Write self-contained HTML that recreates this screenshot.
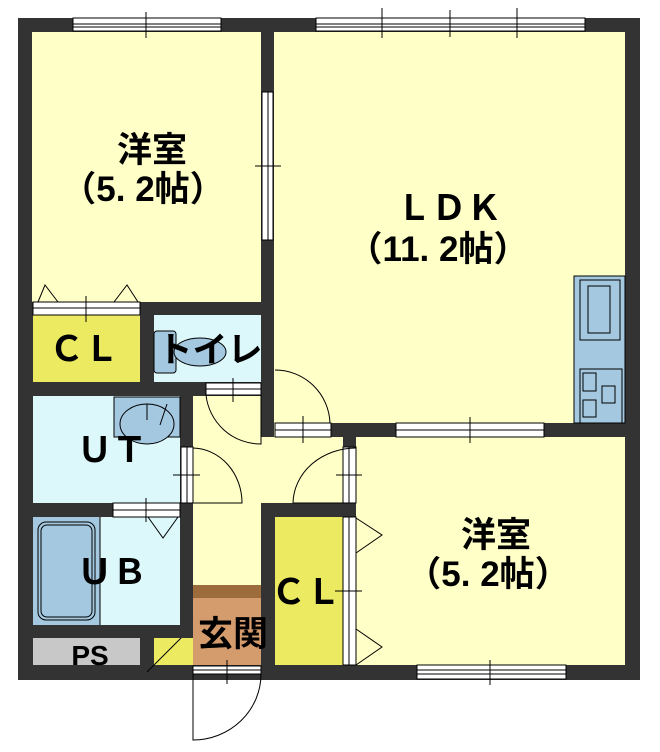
<!DOCTYPE html>
<html><head><meta charset="utf-8"><style>
html,body{margin:0;padding:0;background:#fff;}
svg{display:block;}
text{font-family:"Liberation Sans","Noto Sans CJK JP",sans-serif;fill:#000;}
</style></head><body>
<svg width="660" height="752" viewBox="0 0 660 752" xmlns="http://www.w3.org/2000/svg">
<rect x="18" y="18" width="622" height="662" fill="#333"/>
<rect x="32" y="32" width="229" height="270" fill="#ffffc8"/>
<rect x="274" y="32" width="351" height="391" fill="#ffffc8"/>
<rect x="356" y="437" width="269" height="228" fill="#ffffc8"/>
<rect x="33" y="315" width="107" height="67" fill="#ecea60"/>
<rect x="154" y="315" width="107" height="67" fill="#dcf8fa"/>
<rect x="33" y="396" width="147" height="107" fill="#dcf8fa"/>
<rect x="33" y="517" width="147" height="108" fill="#dcf8fa"/>
<rect x="33" y="517" width="67" height="108" fill="#a3c8e0"/>
<rect x="38" y="522" width="57" height="98" rx="8" fill="none" stroke="#000" stroke-width="1"/>
<rect x="41" y="525" width="51" height="92" rx="6" fill="none" stroke="#000" stroke-width="1"/>
<line x1="100" y1="517" x2="100" y2="625" stroke="#000"/>
<rect x="193" y="395" width="68" height="190" fill="#ffffc8"/>
<rect x="261" y="437" width="95" height="66" fill="#ffffc8"/>
<rect x="274" y="423" width="70" height="14" fill="#ffffc8"/>
<rect x="193" y="585" width="68" height="13" fill="#9c6c3c"/>
<rect x="193" y="598" width="68" height="67" fill="#d49c6c"/>
<rect x="275" y="517" width="68" height="148" fill="#ecea60"/>
<rect x="33" y="638" width="107" height="27" fill="#c8c8c8"/>
<rect x="154" y="638" width="39" height="27" fill="#ecea60"/>
<line x1="147" y1="672" x2="187" y2="632" stroke="#000"/>
<g fill="#333">
<rect x="261" y="32" width="13" height="405"/>
<rect x="32" y="302" width="229" height="13"/>
<rect x="140" y="302" width="14" height="80"/>
<rect x="32" y="382" width="229" height="14"/>
<rect x="180" y="382" width="13" height="65"/>
<rect x="331" y="423" width="294" height="14"/>
<rect x="343" y="423" width="13" height="24"/>
<rect x="32" y="503" width="161" height="14"/>
<rect x="180" y="503" width="13" height="135"/>
<rect x="32" y="625" width="161" height="13"/>
<rect x="140" y="638" width="14" height="27"/>
<rect x="261" y="503" width="95" height="14"/>
<rect x="261" y="517" width="14" height="148"/>
</g>
<g fill="#fff" stroke="#000" stroke-width="1">
<rect x="73" y="18" width="148" height="13"/><line x1="73" y1="24" x2="221" y2="24"/><line x1="73" y1="27" x2="221" y2="27"/>
<rect x="316" y="18" width="269" height="13"/><line x1="316" y1="24" x2="585" y2="24"/><line x1="316" y1="27" x2="585" y2="27"/>
<rect x="262" y="92" width="11" height="148"/><line x1="268" y1="92" x2="268" y2="240"/>
<rect x="33" y="302" width="107" height="13"/><line x1="33" y1="308" x2="140" y2="308"/>
<rect x="206" y="383" width="55" height="12"/><line x1="206" y1="389" x2="261" y2="389"/>
<rect x="275" y="423" width="56" height="14"/><line x1="275" y1="430" x2="331" y2="430"/>
<rect x="396" y="423" width="148" height="14"/><line x1="396" y1="430" x2="544" y2="430"/>
<rect x="181" y="447" width="12" height="56"/><line x1="187" y1="447" x2="187" y2="503"/>
<rect x="343" y="447" width="13" height="56"/><line x1="349" y1="447" x2="349" y2="503"/>
<rect x="113" y="503" width="67" height="14"/><line x1="113" y1="510" x2="180" y2="510"/>
<rect x="343" y="517" width="13" height="148"/><line x1="349" y1="517" x2="349" y2="665"/>
<rect x="417" y="665" width="149" height="14"/><line x1="417" y1="670" x2="566" y2="670"/><line x1="417" y1="674" x2="566" y2="674"/>
<rect x="193" y="666" width="68" height="8"/><line x1="193" y1="670" x2="261" y2="670"/>
</g>
<g fill="none" stroke="#000" stroke-width="1">
<line x1="146" y1="12" x2="146" y2="38"/><line x1="382" y1="8" x2="382" y2="38"/><line x1="450" y1="10" x2="450" y2="37"/><line x1="517" y1="8" x2="517" y2="38"/>
<line x1="255" y1="166" x2="281" y2="166"/><line x1="86" y1="296" x2="86" y2="322"/>
<line x1="233" y1="378" x2="233" y2="402"/><line x1="303" y1="416" x2="303" y2="443"/><line x1="470" y1="417" x2="470" y2="443"/>
<line x1="173" y1="475" x2="200" y2="475"/><line x1="336" y1="475" x2="362" y2="475"/>
<line x1="146" y1="498" x2="146" y2="522"/><line x1="335" y1="591" x2="362" y2="591"/>
<line x1="490" y1="660" x2="490" y2="685"/><line x1="227" y1="660" x2="227" y2="684"/>
<path d="M38 302 L45 285 L58 302 M114 302 L127 285 L138 302"/>
<path d="M148 517 L163 538 L178 517"/>
<path d="M356 518 L382 535 L356 553 M356 629 L382 647 L356 665"/>
<path d="M206 395 A55 55 0 0 0 261 444 L261 395"/>
<path d="M275 370 A55 55 0 0 1 330 423"/>
<path d="M193 448 A50 55 0 0 1 242 503 L193 503"/>
<path d="M356 448 A63 56 0 0 0 293 503 L356 503"/>
<path d="M261 674 A68 66 0 0 1 193 740 L193 674"/>
</g>
<rect x="154" y="331" width="22" height="42" rx="3" fill="#a3c8e0" stroke="#000"/>
<ellipse cx="200" cy="352" rx="26" ry="14" fill="#a3c8e0" stroke="#000"/>
<rect x="114" y="397" width="66" height="40" fill="#a3c8e0" stroke="#000"/>
<ellipse cx="147" cy="424" rx="27" ry="20" fill="#a3c8e0" stroke="#000"/>
<line x1="147" y1="404" x2="147" y2="420" stroke="#000"/><line x1="167" y1="404" x2="160" y2="425" stroke="#000"/>
<rect x="574" y="276" width="51" height="147" fill="#a3c8e0" stroke="#000"/>
<rect x="580" y="280" width="40" height="60" fill="none" stroke="#000"/>
<rect x="588" y="286" width="22" height="47" fill="none" stroke="#000"/>
<rect x="580" y="369" width="42" height="54" fill="none" stroke="#000"/>
<rect x="583" y="373" width="13" height="18" fill="none" stroke="#000"/>
<rect x="583" y="400" width="13" height="17" fill="none" stroke="#000"/>
<rect x="602" y="386" width="13" height="17" fill="none" stroke="#000"/>
<g font-size="35" font-weight="bold">
<text x="152" y="162" text-anchor="middle">洋室</text>
<text x="143" y="201" text-anchor="middle">（5. 2帖）</text>
<text x="449" y="220" text-anchor="middle">ＬＤＫ</text>
<text x="438" y="261" text-anchor="middle">（11. 2帖）</text>
<text x="496" y="547" text-anchor="middle">洋室</text>
<text x="488" y="586" text-anchor="middle">（5. 2帖）</text>
<text x="84" y="361" text-anchor="middle">ＣＬ</text>
<text x="210" y="362" text-anchor="middle">トイレ</text>
<text x="112" y="462" text-anchor="middle">ＵＴ</text>
<text x="112" y="584" text-anchor="middle">ＵＢ</text>
<text x="306" y="604" text-anchor="middle">ＣＬ</text>
<text x="233" y="646" text-anchor="middle">玄関</text>
<text x="90" y="665" text-anchor="middle" font-size="28">PS</text>
</g>
</svg>
</body></html>
